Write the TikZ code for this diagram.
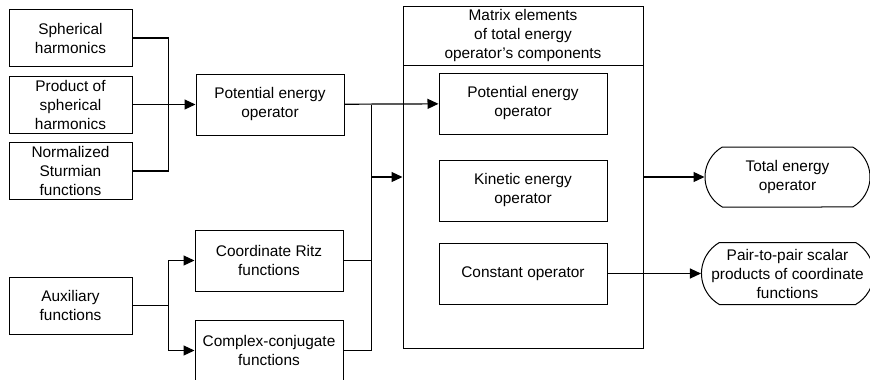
\documentclass[tikz,border=0pt]{standalone}
\usepackage{fontspec}
\setmainfont{Liberation Sans}
\usetikzlibrary{arrows.meta, positioning, shapes.misc, calc}
\tikzset{
	srcbox/.style={rectangle, draw, line width=1pt, align=center, minimum width=123pt, minimum height=57pt, inner sep=0pt},
	block/.style={rectangle, draw, line width=1pt, align=center, minimum width=148pt, minimum height=61pt, inner sep=0pt},
	innerblock/.style={rectangle, draw, line width=1pt, align=center, minimum width=168pt, minimum height=61pt, inner sep=0pt},
	group/.style={rectangle, draw, line width=1pt, minimum width=240pt, minimum height=342pt, inner sep=0pt},
	grouphead/.style={rectangle, draw, line width=1pt, align=center, minimum width=240pt, minimum height=59pt, inner sep=0pt},
	result/.style={rounded rectangle, rounded rectangle arc length=120, draw, line width=1pt, align=center, minimum width=165pt, minimum height=60pt, inner sep=0pt},
	arrow/.style={-{Triangle[length=11pt, width=10pt]}, line width=1.2pt},
	link/.style={line width=1.2pt},
}

\begin{document}
\begin{tikzpicture}[x=1pt, y=1pt, font=\fontsize{15.4}{19}\selectfont]
		\useasboundingbox (0,0) rectangle (870,-380);
		\node[srcbox] (sph) at (70.5,-38) {Spherical\\harmonics};
		\node[srcbox, below=8.5pt of sph] (prod) {Product of\\spherical\\harmonics};
		\node[srcbox, below=8.5pt of prod] (norm) {Normalized\\Sturmian\\functions};
		\node[srcbox] (aux) at (70.5,-305.5) {Auxiliary\\functions};
		\node[block, right=63pt of prod] (pot) {Potential energy\\operator};
		\node[block] (ritz) at (269,-260.5) {Coordinate Ritz\\functions};
		\node[block, below=28pt of ritz] (conj) {Complex-conjugate\\functions};
		\node[group] (grp) at (523,-177) {};
		\node[grouphead, anchor=north] (head) at (grp.north) {Matrix elements\\of total energy\\operator’s components};
		\node[innerblock] (ipot) at (523,-103.5) {Potential energy\\operator};
		\node[innerblock, below=25pt of ipot] (kin) {Kinetic energy\\operator};
		\node[innerblock, below=21pt of kin] (const) {Constant operator};
		\node[result, right=61pt of grp] (total) {Total energy\\operator};
		\node[result, minimum height=62pt] (pair) at (total |- const) {Pair-to-pair scalar\\products of coordinate\\functions};
		\coordinate (jin) at ($(prod.east)+(36,0)$);
		\coordinate (jaux) at ($(aux.east)+(36,0)$);
		\coordinate (jout) at ($(pot.east)+(27,0)$);
		\coordinate (jmid) at (jout |- grp.west);
		\draw[link] (sph) -| (jin);
		\draw[link] (norm) -| (jin);
		\draw[arrow] (prod) -- (pot);
		\draw[link] (aux) -- (jaux);
		\draw[arrow] (jaux) |- (ritz);
		\draw[arrow] (jaux) |- (conj);
		\draw[arrow] (pot) -- (ipot);
		\draw[link] (ritz) -| (jout);
		\draw[link] (conj) -| (jout);
		\draw[arrow] (jmid) -- (grp.west);
		\draw[arrow] (grp) -- (total);
		\draw[arrow] (const) -- (pair);
	\end{tikzpicture}
\end{document}
